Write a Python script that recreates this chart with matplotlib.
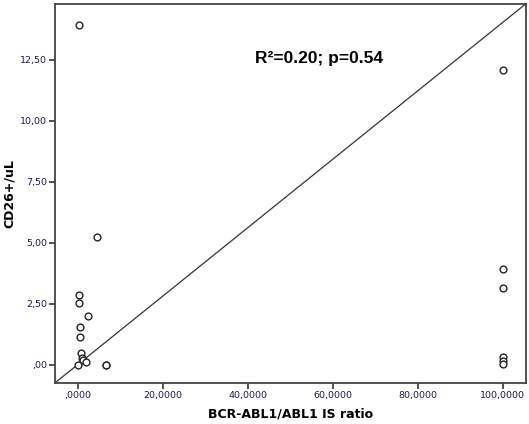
import matplotlib
matplotlib.use("Agg")
import matplotlib.pyplot as plt

x_vals = [0.2, 0.2, 0.2, 2.3, 0.4, 0.4, 0.7, 0.9, 1.2, 2.0, 0.1, 6.5, 6.7, 4.5,
          100, 100, 100, 100, 100, 100]
y_vals = [13.93, 2.88, 2.52, 2.0, 1.56, 1.13, 0.49, 0.27, 0.18, 0.11, 0.0, 0.0, 0.0, 5.24,
          12.07, 3.92, 3.15, 0.34, 0.17, 0.02]

x_ticks = [0, 20, 40, 60, 80, 100]
x_tick_labels = [",0000", "20,0000", "40,0000", "60,0000", "80,0000", "100,0000"]
y_ticks = [0, 2.5, 5.0, 7.5, 10.0, 12.5]
y_tick_labels = [",00", "2,50", "5,00", "7,50", "10,00", "12,50"]

fig = plt.figure(figsize=(5.29, 4.24), dpi=100)
ax = fig.add_axes([0.104, 0.097, 0.890, 0.894])

ax.scatter(x_vals, y_vals, s=24, facecolors="white", edgecolors="#222222", linewidths=1.0, zorder=3)
ax.plot([0, 1], [0, 1], transform=ax.transAxes, color="#333333", lw=0.9, zorder=2)

ax.set_xlim(-5.4, 105.4)
ax.set_ylim(-0.74, 14.8)
ax.set_xticks(x_ticks)
ax.set_xticklabels(x_tick_labels)
ax.set_yticks(y_ticks)
ax.set_yticklabels(y_tick_labels)
ax.tick_params(axis="both", direction="out", length=4, width=1.2, color="#333333",
               labelsize=6.8, labelcolor="#1a1a4a", pad=1.5)
for sp in ax.spines.values():
    sp.set_color("#444444")
    sp.set_linewidth(1.3)

ax.set_xlabel("BCR-ABL1/ABL1 IS ratio", fontsize=9, fontweight="bold", labelpad=6)
ax.set_ylabel("CD26+/uL", fontsize=9, fontweight="bold", labelpad=3)

ax.text(0.425, 0.857, "R\u00b2=0.20; p=0.54", transform=ax.transAxes,
        fontsize=12.5, fontweight="bold", family=["Liberation Sans", "DejaVu Sans"],
        ha="left", va="center")

fig.savefig("out.png", dpi=100)
